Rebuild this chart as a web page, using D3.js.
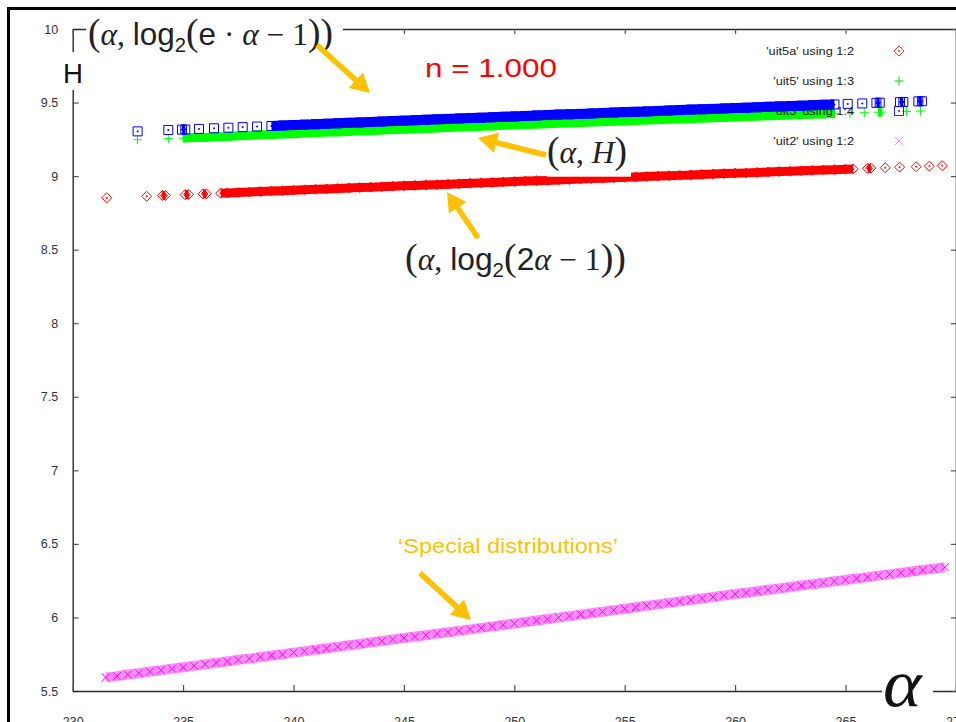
<!DOCTYPE html>
<html><head><meta charset="utf-8">
<script src="https://cdn.jsdelivr.net/npm/d3@7"></script>
<style>html,body{margin:0;padding:0;background:#fff;overflow:hidden}</style>
</head><body>
<svg id="chart" width="956" height="722" xmlns="http://www.w3.org/2000/svg"></svg>
<script>
// ---------- data ----------
const xTicks = [230,235,240,245,250,255,260,265,270];
const xTickLabels = ["230","235","240","245","250","255","260","265","270"];
const yTicks = [5.5,6,6.5,7,7.5,8,8.5,9,9.5,10];
const yTickLabels = ["5.5","6","6.5","7","7.5","8","8.5","9","9.5","10"];
const legendLabels = ["'uit5a' using 1:2","'uit5' using 1:3","'uit3' using 1:4","'uit2' using 1:2"];

// 'uit5a' using 1:2  (alpha, log2(2 alpha - 1))
const redAlpha = [231.54,233.35,234.06,234.2,235.09,235.25,235.9,236.05,236.7,
 237,237.5,238,238.5,239,239.5,240,240.5,241,241.5,242,242.5,243,243.5,244,244.5,245,245.5,246,246.5,247,247.5,248,248.5,249,249.5,250,250.5,251,251.5,252,252.5,253,253.5,254,254.5,255,255.5,256,256.5,257,257.5,258,258.5,259,259.5,260,260.5,261,261.5,262,262.5,263,263.5,264,264.5,265,
 265.35,266,266.15,266.8,267.45,268.2,268.8,269.38];
const redH = [8.852,8.863,8.868,8.869,8.874,8.875,8.879,8.880,8.884,
 8.886,8.889,8.892,8.895,8.898,8.901,8.904,8.907,8.910,8.913,8.916,8.919,8.922,8.925,8.928,8.931,8.934,8.937,8.940,8.942,8.945,8.948,8.951,8.954,8.957,8.960,8.963,8.966,8.969,8.971,8.974,8.977,8.980,8.983,8.986,8.989,8.992,8.994,8.997,9.000,9.003,9.005,9.008,9.011,9.014,9.017,9.020,9.022,9.025,9.028,9.031,9.033,9.036,9.039,9.042,9.044,9.047,
 9.049,9.053,9.054,9.057,9.061,9.064,9.068,9.071];

// 'uit5' using 1:3  (alpha, H)
const greenAlpha = [232.94,234.33,
 235,235.5,236,236.5,237,237.5,238,238.5,239,239.5,240,240.5,241,241.5,242,242.5,243,243.5,244,244.5,245,245.5,246,246.5,247,247.5,248,248.5,249,249.5,250,250.5,251,251.5,252,252.5,253,253.5,254,254.5,255,255.5,256,256.5,257,257.5,258,258.5,259,259.5,260,260.5,261,261.5,262,262.5,263,263.5,264,264.5,
 265.2,265.85,266.5,266.65,267.77,268.4];
const greenH = [9.247,9.255,
 9.258,9.262,9.263,9.268,9.270,9.274,9.276,9.281,9.282,9.287,9.288,9.293,9.294,9.299,9.300,9.303,9.308,9.309,9.313,9.316,9.318,9.322,9.324,9.327,9.331,9.333,9.336,9.339,9.341,9.345,9.347,9.350,9.353,9.356,9.359,9.361,9.364,9.367,9.370,9.373,9.375,9.378,9.381,9.383,9.386,9.389,9.391,9.394,9.397,9.399,9.402,9.405,9.407,9.410,9.412,9.415,9.418,9.420,9.423,9.426,
 9.428,9.431,9.434,9.435,9.440,9.442];

// 'uit3' using 1:4  (alpha, log2(e alpha - 1))
const blueAlpha = [232.94,234.33,234.95,235.1,235.72,236.4,237.05,237.7,238.35,
 239,239.5,240,240.5,241,241.5,242,242.5,243,243.5,244,244.5,245,245.5,246,246.5,247,247.5,248,248.5,249,249.5,250,250.5,251,251.5,252,252.5,253,253.5,254,254.5,255,255.5,256,256.5,257,257.5,258,258.5,259,259.5,260,260.5,261,261.5,262,262.5,263,263.5,264,264.5,
 265.1,265.76,266.4,266.55,267.47,267.62,268.3,268.46];
const blueH = [9.304,9.313,9.316,9.317,9.321,9.325,9.329,9.333,9.337,
 9.341,9.344,9.347,9.350,9.353,9.356,9.359,9.362,9.365,9.368,9.371,9.374,9.377,9.380,9.383,9.386,9.389,9.392,9.395,9.397,9.400,9.403,9.406,9.409,9.412,9.415,9.418,9.420,9.423,9.426,9.429,9.432,9.435,9.437,9.440,9.443,9.446,9.449,9.452,9.454,9.457,9.460,9.463,9.465,9.468,9.471,9.474,9.476,9.479,9.482,9.485,9.487,
 9.491,9.494,9.498,9.499,9.503,9.504,9.508,9.509];

// 'uit2' using 1:2  (special distributions)
const magAlpha = [231.5,232,232.5,233,233.5,234,234.5,235,235.5,236,236.5,237,237.5,238,238.5,239,239.5,240,240.5,241,241.5,242,242.5,243,243.5,244,244.5,245,245.5,246,246.5,247,247.5,248,248.5,249,249.5,250,250.5,251,251.5,252,252.5,253,253.5,254,254.5,255,255.5,256,256.5,257,257.5,258,258.5,259,259.5,260,260.5,261,261.5,262,262.5,263,263.5,264,264.5,265,265.5,266,266.5,267,267.5,268,268.5,269,269.5];
const magH = [5.592,5.601,5.612,5.621,5.632,5.641,5.652,5.661,5.671,5.682,5.691,5.701,5.712,5.720,5.731,5.741,5.750,5.761,5.770,5.781,5.790,5.800,5.811,5.820,5.830,5.840,5.850,5.860,5.870,5.879,5.890,5.899,5.909,5.919,5.929,5.939,5.949,5.959,5.969,5.979,5.989,5.999,6.009,6.019,6.029,6.039,6.049,6.059,6.069,6.079,6.089,6.099,6.109,6.119,6.129,6.139,6.149,6.159,6.168,6.178,6.188,6.197,6.207,6.217,6.226,6.236,6.246,6.255,6.265,6.274,6.284,6.293,6.303,6.312,6.322,6.331,6.341];

// ---------- drawing ----------
const svg = d3.select("#chart");
const SANS = "'Liberation Sans', Arial, sans-serif";
const SERIF = "'Liberation Serif', 'Times New Roman', serif";
const x = d3.scaleLinear().domain([230,270]).range([72.7,955.9]);
const y = d3.scaleLinear().domain([5.5,10]).range([691,29]);

// outer slide frame
svg.append("rect").attr("x",8.5).attr("y",8.5).attr("width",970).attr("height",730)
  .attr("fill","none").attr("stroke","#000").attr("stroke-width",3);

function styleAxis(g){
  g.select(".domain").attr("stroke","#2a2a2a").attr("stroke-width",1.4);
  g.selectAll(".tick line").attr("stroke","#555").attr("stroke-width",1.2);
  g.selectAll(".tick text").attr("font-family",SANS).attr("font-size",12.5).attr("fill","#333");
}
svg.append("g").attr("transform","translate(72.7,0)")
  .call(d3.axisLeft(y).tickValues(yTicks).tickFormat((d,i)=>yTickLabels[i]).tickSize(-6).tickSizeOuter(0).tickPadding(14.5))
  .call(styleAxis);
svg.append("g").attr("transform","translate(0,691)")
  .call(d3.axisBottom(x).tickValues(xTicks).tickFormat((d,i)=>xTickLabels[i]).tickSize(-6).tickSizeOuter(0).tickPadding(26))
  .call(styleAxis);
svg.append("g").attr("transform","translate(0,29)")
  .call(d3.axisTop(x).tickValues(xTicks).tickFormat(()=>"").tickSize(-5).tickSizeOuter(0))
  .call(styleAxis);
svg.append("g").attr("transform",`translate(${x(270)},0)`)
  .call(d3.axisRight(y).tickValues(yTicks).tickFormat(()=>"").tickSize(-5).tickSizeOuter(0))
  .call(styleAxis);

// marker shapes
const SYM = {
  diamond: "M0,-5L5,0L0,5L-5,0Z M-0.5,-0.5h1v1h-1z",
  square:  "M-4.5,-4.5h9v9h-9Z M-0.5,-0.5h1v1h-1z",
  plus:    "M-4.5,0h9M0,-4.5v9",
  cross:   "M-4,-4L4,4M-4,4L4,-4"
};

function segments(a,h,gap){
  const segs=[]; let cur=[];
  for(let i=0;i<a.length;i++){
    if(i>0 && a[i]-a[i-1]>gap){ if(cur.length>1) segs.push(cur); cur=[]; }
    cur.push([a[i],h[i]]);
  }
  if(cur.length>1) segs.push(cur);
  return segs;
}
const line = d3.line().x(d=>x(d[0])).y(d=>y(d[1]));

function legendEntry(i, sym, color){
  const ly = 51 + i*30;
  const g = svg.append("g").attr("transform",`translate(854,${ly}) scale(1.16,1)`);
  g.append("text").attr("x",0).attr("y",0).attr("dy","0.35em").attr("text-anchor","end")
    .attr("font-family",SANS).attr("font-size",11).attr("fill","#222").text(legendLabels[i]);
  svg.append("path").attr("d",SYM[sym]).attr("transform",`translate(899,${ly})`)
    .attr("fill","none").attr("stroke",color).attr("stroke-width",1);
}

function series(a,h,color,bandW,sym,markColor,bandColor){
  const g = svg.append("g");
  g.selectAll("path.band").data(segments(a,h,0.55)).join("path").attr("class","band")
    .attr("d",line).attr("fill","none").attr("stroke",bandColor||color).attr("stroke-width",bandW);
  g.selectAll("path.mk").data(a.map((v,i)=>[v,h[i]])).join("path").attr("class","mk")
    .attr("d",SYM[sym]).attr("transform",d=>`translate(${x(d[0])},${y(d[1])})`)
    .attr("fill","none").attr("stroke",markColor||color).attr("stroke-width",1);
}

legendEntry(0,"diamond","#ff3030");
series(redAlpha,redH,"#ff0000",9,"diamond");
legendEntry(1,"plus","#00dd00");
series(greenAlpha,greenH,"#00ff00",9,"plus");
legendEntry(2,"square","#2020ff");
series(blueAlpha,blueH,"#0000ff",10,"square");
legendEntry(3,"cross","#ff80ff");
series(magAlpha,magH,"#ff00ff",10,"cross","#ff00ff","#ff8cff");

// ---------- labels ----------
function whiteBox(x0,y0,x1,y1){
  svg.append("rect").attr("x",x0).attr("y",y0).attr("width",x1-x0).attr("height",y1-y0).attr("fill","#fff");
}
function richText(parts, base, color){
  const t = svg.append("text").attr("x",0).attr("y",0).attr("font-size",base)
    .attr("fill",color).style("white-space","pre");
  parts.forEach(p=>{
    const s = t.append("tspan").text(p.t).attr("font-family",p.f==="sans"?SANS:SERIF);
    if(p.it) s.attr("font-style","italic");
    if(p.s) s.attr("font-size",p.s);
    if(p.dy) s.attr("dy",p.dy);
  });
  return t;
}
function fit(t, x0, base, w){
  const bb = t.node().getBBox();
  const s = w/bb.width;
  t.attr("transform",`translate(${x0 - bb.x*s},${base}) scale(${s},1)`);
}

// (alpha, log2(e*alpha-1))
whiteBox(86,11,343,53);
fit(richText([
  {t:"(",s:37},{t:"α",it:1},{t:", "},{t:"log",f:"sans"},{t:"2",f:"sans",s:20,dy:7},
  {t:"(",s:37,dy:-7},{t:"e",f:"sans"},{t:" · "},{t:"α",it:1},{t:" − "},{t:"1"},{t:"))",s:37}
],31,"#222"),88,45,245);

// H
whiteBox(56,52,91,90);
fit(richText([{t:"H",f:"sans"}],28,"#111"),63,83,20);

// n = 1.000
fit(richText([{t:"n = 1.000",f:"sans"}],26,"#ff0000"),425,76.7,132);

// (alpha, H)
whiteBox(546.7,135,631,176.7);
fit(richText([{t:"(",s:37},{t:"α",it:1},{t:", "},{t:"H",it:1},{t:")",s:37}],31,"#222"),547,163,80);

// (alpha, log2(2 alpha - 1))
whiteBox(402,238,630,284);
fit(richText([
  {t:"(",s:37},{t:"α",it:1},{t:", "},{t:"log",f:"sans"},{t:"2",f:"sans",s:20,dy:7},
  {t:"(",s:37,dy:-7},{t:"2",f:"sans"},{t:"α",it:1},{t:" − "},{t:"1"},{t:"))",s:37}
],31,"#222"),405,270,221);

// 'Special distributions'
fit(richText([{t:"‘Special distributions’",f:"sans"}],20,"#ffc000"),398,552.7,220);

// big alpha axis label
whiteBox(882,668,933,712);
fit(richText([{t:"α",it:1}],68,"#111"),883,706,40);

// ---------- arrows ----------
function arrow(x1,y1,x2,y2){
  const dx=x2-x1, dy=y2-y1, L=Math.hypot(dx,dy), ux=dx/L, uy=dy/L, px=-uy, py=ux;
  const hl=19, hw=10.5, sw=2.8;
  const bx=x2-ux*hl, by=y2-uy*hl;
  const pts=[[x1+px*sw,y1+py*sw],[bx+px*sw,by+py*sw],[bx+px*hw,by+py*hw],[x2,y2],
             [bx-px*hw,by-py*hw],[bx-px*sw,by-py*sw],[x1-px*sw,y1-py*sw]];
  svg.append("polygon").attr("points",pts.map(p=>p.join(",")).join(" ")).attr("fill","#ffc000");
}
arrow(317,45,370,93);
arrow(546,155,478,138);
arrow(478,238,447,192);
arrow(420,573,471,620);
</script>
</body></html>
